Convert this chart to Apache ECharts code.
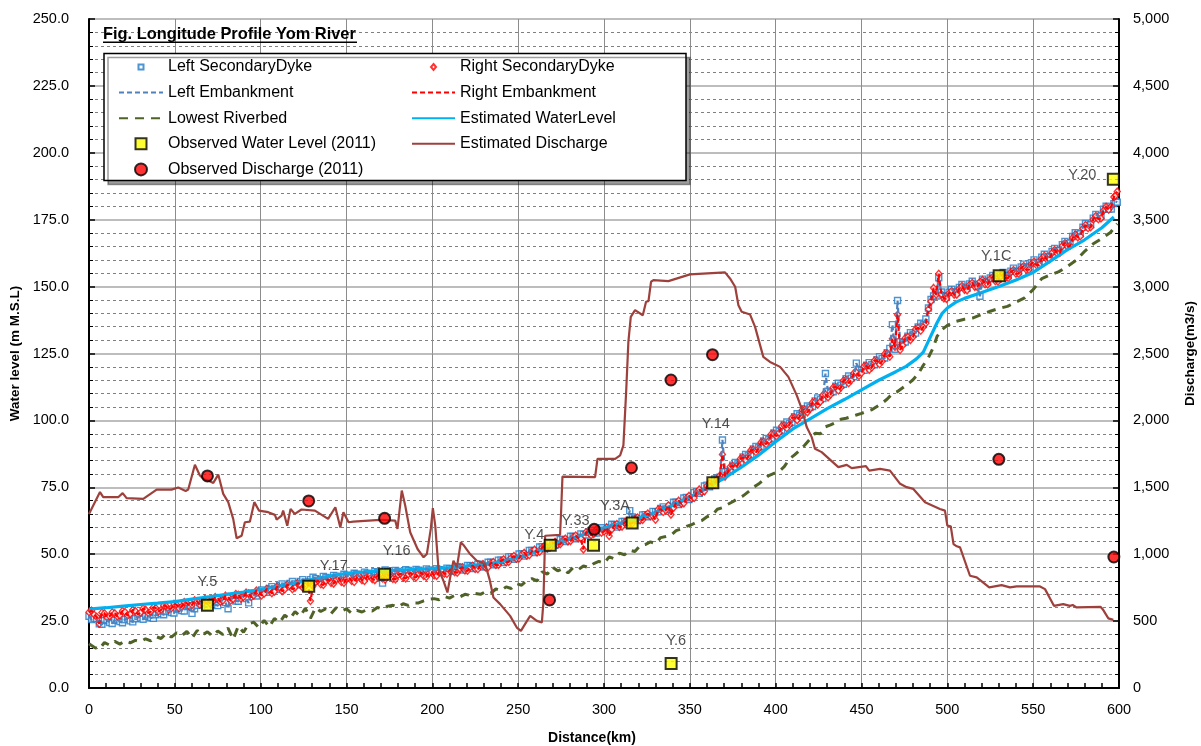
<!DOCTYPE html>
<html>
<head>
<meta charset="utf-8">
<script src="https://cdn.jsdelivr.net/npm/echarts/dist/echarts.min.js"></script>
<style>html,body{margin:0;padding:0;background:#fff;overflow:hidden}#c{width:1201px;height:746px}</style>
</head>
<body>
<div id="c"></div>
<script>
// ---------- DATA ----------
// Embankment / secondary dyke crest levels, main survey points (km, m M.S.L)
const dykeKm = [0,3,6,9,12,15,18,21,24,27,30,33,36,39,42,45,48,51,54,57,60,63,66,69,72,75,78,81,84,87,90,93,96,99,102,105,108,111,114,117,120,123,126,129,132,135,138,141,144,147,150,153,156,159,162,165,168,171,174,177,180,183,186,189,192,195,198,201,204,207,210,213,216,219,222,225,228,231,234,237,240,243,246,249,252,255,258,261,264,267,270,273,276,279,282,285,288,291,294,297,300,303,306,309,312,315,318,321,324,327,330,333,336,339,342,345,348,351,354,357,360,363,366,369,372,375,378,381,384,387,390,393,396,399,402,405,408,411,414,417,420,423,426,429,432,435,438,441,444,447,450,453,456,459,462,465,468,471,474,477,480,483,486,489,492,495,498,501,504,507,510,513,516,519,522,525,528,531,534,537,540,543,546,549,552,555,558,561,564,567,570,573,576,579,582,585,588,591,594,597,599];
const rightDyke = [28.3,27.4,24.0,27.9,26.8,27.9,27.2,28.4,27.6,28.8,
28.1,29.2,28.6,29.8,29.2,30.5,29.8,31.1,30.4,31.7,
31.0,32.4,31.6,32.9,32.2,33.6,32.7,34.1,33.2,34.8,
34.0,35.3,34.6,36.0,35.2,36.7,36.0,37.5,36.8,38.2,
37.5,38.8,38.1,32.5,39.6,38.8,40.1,39.3,40.5,39.6,
40.8,40.0,41.2,40.3,41.6,40.7,41.9,40.9,42.1,40.8,
42.3,41.3,42.5,41.6,42.8,41.9,42.9,42.1,43.4,42.7,
44.0,43.3,44.6,43.9,45.2,44.5,45.8,45.1,46.6,46.0,
47.5,47.0,48.7,48.3,49.9,49.5,51.1,50.7,52.5,52.2,
54.0,53.6,55.2,54.8,56.4,56.0,51.8,58.1,57.6,59.0,
58.5,56.8,60.7,60.2,61.9,61.5,63.1,62.7,64.5,64.2,
62.9,66.8,66.4,64.8,69.1,68.9,70.9,70.8,73.1,73.2,
75.5,75.8,78.2,87.3,80.4,83.0,83.4,86.0,86.4,89.0,
89.4,92.0,92.4,95.0,95.4,98.1,98.4,101.1,101.4,104.1,
104.3,107.0,107.0,109.7,109.7,112.5,112.3,115.2,115.0,117.9,
117.7,120.3,119.8,122.4,122.1,125.0,130.5,139.5,128.0,131.2,
131.2,134.6,134.9,141.5,149.5,154.8,145.6,147.5,147.0,149.3,
148.8,150.7,149.9,151.8,150.9,152.9,152.0,153.9,153.2,155.4,
154.8,156.9,156.3,158.5,158.0,160.5,160.1,162.6,162.4,165.2,
164.9,168.2,168.4,171.7,171.8,175.1,175.2,178.4,178.7,183.5,185.5];
const leftDyke = [26.8,26.0,24.0,25.2,24.5,25.3,24.8,25.6,25.1,25.9,
26.2,26.8,26.3,27.4,27.8,28.6,28.2,29.5,28.9,30.4,
27.9,30.9,31.2,30.4,32.0,30.8,32.5,29.6,33.2,32.4,
34.1,31.8,34.8,35.6,36.0,37.2,37.0,38.2,38.0,39.1,
38.9,39.8,39.6,40.5,40.8,40.6,41.3,41.0,41.8,41.5,
42.1,41.8,42.5,42.2,42.9,42.4,43.2,39.2,43.5,42.8,
43.6,43.0,43.9,43.2,44.0,43.4,44.1,43.6,44.2,43.5,
44.6,44.0,45.1,44.5,45.7,45.0,46.2,45.6,47.0,46.4,
47.8,47.5,49.0,48.7,50.1,50.0,51.4,51.2,52.8,52.6,
54.2,54.0,55.5,55.3,56.6,56.4,57.4,58.4,58.0,59.3,
59.0,60.0,61.0,60.7,62.2,66.3,63.4,63.2,64.8,64.6,
65.9,67.1,66.9,68.0,69.4,69.3,71.2,71.1,73.4,73.6,
75.8,76.2,78.4,92.7,80.8,83.3,83.8,86.3,86.8,89.3,
89.8,92.3,92.8,95.3,95.8,98.4,98.8,101.4,101.9,104.4,
104.8,107.3,107.8,117.5,110.4,112.8,113.2,115.6,115.8,121.4,
118.6,120.6,120.8,122.7,123.1,125.3,135.8,144.8,129.0,131.5,
132.2,134.9,135.8,142.0,146.5,153.3,146.6,147.9,148.0,149.7,
149.8,151.0,150.9,146.4,152.0,153.2,153.0,154.3,154.2,155.8,
155.8,157.3,157.3,158.9,159.0,161.0,161.1,163.1,163.4,165.7,
166.0,168.7,169.4,172.2,172.8,175.6,176.2,178.9,179.0,181.0,181.5];
// Intermediate survey points
const dykeMidKm = [1.5,4.5,7.5,10.5,13.5,16.5,19.5,22.5,25.5,28.5,31.5,34.5,37.5,40.5,43.5,46.5,49.5,52.5,55.5,58.5,61.5,64.5,67.5,70.5,73.5,76.5,79.5,82.5,85.5,88.5,91.5,94.5,97.5,100.5,103.5,106.5,109.5,112.5,115.5,118.5,121.5,124.5,127.5,130.5,133.5,136.5,139.5,142.5,145.5,148.5,151.5,154.5,157.5,160.5,163.5,166.5,169.5,172.5,175.5,178.5,181.5,184.5,187.5,190.5,193.5,196.5,199.5,202.5,205.5,208.5,211.5,214.5,217.5,220.5,223.5,226.5,229.5,232.5,235.5,238.5,241.5,244.5,247.5,250.5,253.5,256.5,259.5,262.5,265.5,268.5,271.5,274.5,277.5,280.5,283.5,286.5,289.5,292.5,295.5,298.5,301.5,304.5,307.5,310.5,313.5,316.5,319.5,322.5,325.5,328.5,331.5,334.5,337.5,340.5,343.5,346.5,349.5,352.5,355.5,358.5,361.5,364.5,367.5,370.5,373.5,376.5,379.5,382.5,385.5,388.5,391.5,394.5,397.5,400.5,403.5,406.5,409.5,412.5,415.5,418.5,421.5,424.5,427.5,430.5,433.5,436.5,439.5,442.5,445.5,448.5,451.5,454.5,457.5,460.5,463.5,466.5,469.5,472.5,475.5,478.5,481.5,484.5,487.5,490.5,493.5,496.5,499.5,502.5,505.5,508.5,511.5,514.5,517.5,520.5,523.5,526.5,529.5,532.5,535.5,538.5,541.5,544.5,547.5,550.5,553.5,556.5,559.5,562.5,565.5,568.5,571.5,574.5,577.5,580.5,583.5,586.5,589.5,592.5,595.5,598];
const rightDykeMid = [28.9,26.6,28.2,26.3,28.3,26.7,28.8,27.1,29.2,27.5,
29.7,28.0,30.2,28.6,30.9,29.3,31.5,29.8,32.1,30.5,
32.8,31.1,33.3,31.6,34.0,32.2,34.5,32.6,35.1,33.4,
35.7,34.0,36.4,34.6,37.0,35.4,37.8,36.2,38.6,36.9,
39.2,37.5,39.5,38.1,40.2,38.5,40.6,39.0,41.0,39.3,
41.3,39.6,41.7,40.0,42.0,40.3,42.3,40.5,42.4,40.6,
42.7,40.9,43.0,41.3,43.2,41.5,43.4,41.9,43.9,42.6,
44.5,43.1,45.1,43.8,45.7,44.4,46.3,45.1,47.1,46.0,
48.1,47.1,49.3,48.4,50.5,49.6,51.7,50.9,53.2,52.4,
54.6,53.7,55.8,54.9,57.0,55.9,58.2,57.1,59.1,58.0,
60.0,59.2,61.3,60.3,62.5,61.5,63.7,62.8,65.2,64.3,
66.7,65.8,68.3,67.3,70.0,69.0,71.8,71.0,74.2,73.5,
76.6,76.0,79.4,79.0,82.7,82.2,85.7,85.2,88.8,88.1,
91.8,91.1,94.9,94.1,97.9,97.1,100.9,100.1,103.9,103.0,
106.8,105.9,109.5,108.6,112.3,111.2,114.9,113.9,117.6,116.6,
120.2,118.9,122.3,121.0,124.8,123.8,127.5,126.3,130.8,130.0,
134.1,133.5,136.3,144.5,147.0,147.2,145.4,148.4,147.0,150.2,
148.6,151.4,149.8,152.5,150.8,153.6,151.9,154.7,153.2,156.2,
154.8,157.7,156.3,159.4,158.1,161.5,160.2,163.7,162.6,166.3,
165.3,169.5,168.8,173.0,172.2,176.4,175.5,179.8,180.0,184.0];
const leftDykeMid = [25.6,25.9,23.8,25.6,24.1,25.8,24.4,26.1,24.7,26.8,
25.7,27.3,26.0,28.3,27.4,29.1,28.0,29.9,28.8,30.8,
29.6,31.8,30.3,32.4,31.1,33.0,31.9,33.8,32.5,34.5,
33.4,35.4,34.4,36.6,35.8,37.9,36.8,38.9,37.8,39.8,
38.6,40.5,39.3,41.4,40.0,41.7,40.4,42.1,40.9,42.5,
41.2,42.9,41.6,43.3,41.9,43.5,42.4,44.1,42.4,43.9,
42.6,44.2,42.8,44.3,43.0,44.5,43.1,44.6,43.1,44.8,
43.6,45.3,44.1,45.8,44.6,46.3,45.2,47.0,46.0,47.8,
46.9,49.0,48.1,50.1,49.3,51.4,50.6,52.7,52.0,54.1,
53.4,55.5,54.7,56.7,55.8,57.6,57.2,58.9,57.9,59.9,
58.8,61.2,60.1,62.2,61.9,63.9,62.6,64.7,64.0,66.0,
65.8,67.7,66.7,69.4,68.6,71.0,70.4,73.0,72.8,75.5,
75.2,78.1,78.8,80.8,81.3,84.3,84.3,87.3,87.3,90.3,
90.3,93.3,93.3,96.3,96.3,99.4,99.3,102.5,102.3,105.4,
105.2,108.4,108.2,110.9,110.7,113.9,113.5,116.6,116.3,118.9,
118.7,121.6,120.8,123.8,123.3,126.9,126.6,129.4,129.3,132.8,
132.6,136.3,137.9,145.2,146.5,148.0,146.3,149.0,147.8,150.8,
149.4,152.0,150.2,152.8,151.6,154.2,152.6,155.3,154.0,156.9,
155.5,158.4,157.0,160.0,158.9,162.1,161.0,164.3,163.5,166.9,
166.3,170.1,169.7,173.6,173.1,177.0,176.4,180.0,179.0,181.8];

// Lowest riverbed (km, m M.S.L)
const riverKm = [0,3,6,9,12,15,18,21,24,27,30,33,36,39,42,45,48,51,54,57,60,63,66,69,72,75,78,81,84,87,90,93,96,99,102,105,108,111,114,117,120,123,126,129,132,135,138,141,144,147,150,153,156,159,162,165,168,171,174,177,180,183,186,189,192,195,198,201,204,207,210,213,216,219,222,225,228,231,234,237,240,243,246,249,252,255,258,261,264,267,270,273,276,279,282,285,288,291,294,297,300,303,306,309,312,315,318,321,324,327,330,333,336,339,342,345,348,351,354,357,360,363,366,369,372,375,378,381,384,387,390,393,396,399,402,405,408,411,414,417,420,423,426,429,432,435,438,441,444,447,450,453,456,459,462,465,468,471,474,477,480,483,486,489,492,494,497,500,505,510,515,520,525,530,535,540,545,550,555,560,565,570,575,580,585,590,595,599];
const riverVal = [16.5,15.2,14.5,17.0,16.0,17.4,16.4,17.6,16.9,17.8,
17.3,18.4,17.6,19.2,18.5,20.4,19.0,20.6,19.5,21.2,
18.6,21.5,19.8,21.0,19.4,21.3,20.0,22.4,18.2,23.2,
20.8,24.0,24.6,22.5,25.3,22.8,26.0,24.5,27.2,25.8,
28.5,26.8,29.8,26.0,30.0,28.6,29.6,27.8,30.0,28.8,
29.6,27.9,29.0,28.4,29.3,28.8,30.1,29.5,30.6,30.9,
30.2,31.5,30.9,31.8,31.8,32.6,33.2,33.4,33.0,34.2,
33.6,34.6,34.0,35.0,34.6,35.3,35.0,36.0,35.4,37.0,
36.4,37.8,37.2,39.0,38.4,40.2,40.9,40.0,43.4,42.6,
45.2,43.8,44.6,43.0,45.0,44.2,45.6,45.0,46.5,47.3,
46.6,49.0,48.3,50.4,49.8,51.5,51.0,53.2,53.6,54.6,
54.0,56.2,56.6,57.1,58.8,59.4,60.4,61.0,62.0,62.6,
64.0,64.6,66.8,67.4,68.6,69.6,70.8,71.8,73.3,75.0,
76.2,77.8,79.4,80.2,81.0,82.7,85.6,87.1,88.8,90.8,
93.0,95.2,95.0,97.6,98.3,99.2,100.4,100.8,101.4,102.0,
102.6,103.4,104.0,105.2,106.4,108.0,110.0,110.8,112.2,113.6,
115.2,117.4,120.6,123.5,127.5,131.4,134.0,135.5,137.0,137.8,
138.3,139.6,140.8,141.8,142.6,144.2,145.8,148.9,153.0,154.4,
155.6,157.6,159.8,163.2,166.0,168.0,170.2,173.5];

// Estimated water level (km, m M.S.L)
const wlKm = [0,10,20,30,40,50,60,70,80,90,100,110,120,130,140,150,160,170,180,190,200,210,220,230,240,250,260,270,280,290,300,310,320,330,340,350,360,370,380,390,400,410,420,430,440,450,460,470,476,482,486,490,494,497,500,505,510,520,530,540,550,560,570,580,590,597];
const wlVal = [29.5,30.0,30.6,31.2,31.7,32.3,33.2,34.1,35.0,35.8,36.8,38.0,39.3,40.6,41.8,42.8,43.3,43.7,44.0,44.3,44.6,45.0,45.6,46.2,47.2,48.8,50.8,53.3,55.6,57.8,59.8,61.6,63.4,65.6,68.3,71.4,74.6,78.4,82.5,87.0,92.0,96.8,100.6,104.4,107.8,111.4,115.0,118.2,120.2,123.0,125.5,131.0,136.5,140.0,142.0,144.2,145.6,147.8,150.0,152.5,155.3,159.5,163.8,167.5,172.0,176.0];

// Estimated discharge (km, m3/s)
const dischargeKm = [0,6.4,8.3,17,19.6,21.9,31.6,39.4,48.1,52,56.3,57.8,61.7,64.6,67,69.5,72.4,75.3,78.2,81.1,84,86,88.9,90.8,93.7,96.3,99,104.4,108.3,109.3,112.2,113.1,115.5,117.4,119.9,123.8,131.6,139.3,143.5,146.4,148.2,151.2,154,169.6,178.4,179.7,182.2,184.2,187.1,191.4,194.9,196.8,199.1,200.3,201.7,203.6,206.5,208.8,210.4,212.3,214.3,216.6,218.1,222,225.9,230.8,233.3,235.6,239.5,245.3,249.2,251.6,254,257,260.9,263.8,264.7,265.7,266.7,274.4,275,275.8,294.8,296.2,306.5,309.4,311.3,312.9,314.2,315.6,318.1,322.6,324.5,325.9,327.4,328.8,337.5,350.1,370.5,373.4,376.4,378.3,380.2,385.1,388,392.8,396.7,402.6,407.4,412.3,415.2,418.1,421,422.9,426.8,436.5,441.4,444.3,452.6,454.5,460.8,466.6,472.5,476.3,480.2,487,495.7,498.6,500,502,503.6,505.5,507.4,513.2,517.1,524.4,531.6,536.5,540.4,554,556.9,562.1,567.5,571.4,573,575.3,589.2,590.5,593.8,596.7];
const dischargeQ = [1300,1464,1426,1426,1456,1419,1413,1483,1483,1498,1473,1483,1668,1588,1560,1550,1533,1595,1451,1389,1264,1119,1138,1239,1243,1389,1326,1314,1294,1259,1289,1326,1213,1339,1301,1334,1326,1264,1351,1200,1314,1239,1243,1256,1251,1189,1476,1364,1164,1039,977,1001,1189,1344,1214,889,801,714,827,951,902,1089,1069,1001,951,926,814,677,627,539,452,427,477,539,502,490,640,1138,1151,1144,1314,1580,1576,1713,1713,1738,1813,2213,2587,2774,2824,2786,2887,2891,3036,3048,3041,3091,3106,3061,2999,2861,2812,2791,2699,2475,2437,2400,2325,2187,2087,1950,1875,1788,1763,1651,1668,1643,1658,1625,1638,1625,1526,1501,1488,1388,1338,1326,1213,1209,1076,1059,1051,839,827,752,769,752,759,759,739,614,627,614,620,602,607,589,520,509];

// Observed water level 2011 (stations)
const obsWlName = ['Y.5','Y.17','Y.16','Y.4','Y.33','Y.3A','Y.14','Y.6','Y.1C','Y.20'];
const obsWlKm = [69,128,172.2,268.7,293.9,316.4,363.4,339.1,530.2,596.7];
const obsWlVal = [30.9,38.0,42.5,53.3,53.3,61.7,76.7,9.2,154.1,190.1];

// Observed discharge 2011
const obsQKm = [69,128,172.2,268.3,294.3,316,339,363.2,530,597];
const obsQVal = [1585,1398,1268,658,1186,1646,2302,2491,1709,979];

// ---------- STYLE ----------
const wlLabelOffsets = [[0,-23],[25,-20],[12,-23],[-16,-10],[-18,-24],[-17,-17],[3,-59],[5,-22],[-3,-20],[-31,-4]];
const FONT = 'Liberation Sans, Arial, sans-serif';

// ---------- CHART ----------
const pairs = (xs, ys) => xs.map((x, i) => [x, ys[i]]);
const merged = (a, b) => a.concat(b).sort((p, q) => p[0] - q[0]);
const leftData = merged(pairs(dykeKm, leftDyke), pairs(dykeMidKm, leftDykeMid));
const rightData = merged(pairs(dykeKm, rightDyke), pairs(dykeMidKm, rightDykeMid));

const chart = echarts.init(document.getElementById('c'), null, {renderer: 'canvas'});

const legendBase = {
  orient: 'vertical', itemWidth: 44, itemHeight: 12, itemGap: 9.6, padding: 0, selectedMode: false,
  textStyle: {fontSize: 16, color: '#000', fontFamily: FONT, lineHeight: 16}
};
const hideSym = {opacity: 0};

chart.setOption({
  animation: false,
  backgroundColor: '#fff',
  textStyle: {fontFamily: FONT},
  grid: {left: 89, right: 82, top: 19, bottom: 58, containLabel: false, outerBoundsMode: 'none'},
  legend: [
    Object.assign({}, legendBase, {left: 118, top: 59, data: [
      {name: 'Left SecondaryDyke', icon: 'path://M0,0M44,12M19.5,3.5h5v5h-5z'},
      {name: 'Left Embankment', itemStyle: hideSym},
      {name: 'Lowest Riverbed', itemStyle: hideSym},
      {name: 'Observed Water Level (2011)', icon: 'path://M0,0M44,12M16.5,0.5h11v11h-11z'},
      {name: 'Observed Discharge (2011)'}
    ]}),
    Object.assign({}, legendBase, {left: 411, top: 59, itemWidth: 43, data: [
      {name: 'Right SecondaryDyke', icon: 'path://M0,0M43,12M21.5,3L24,6L21.5,9L19,6Z'},
      {name: 'Right Embankment', itemStyle: hideSym},
      {name: 'Estimated WaterLevel', itemStyle: hideSym},
      {name: 'Estimated Discharge', itemStyle: hideSym}
    ]})
  ],
  graphic: [
    {type: 'rect', z: 3, shape: {x: 104, y: 53.5, width: 582, height: 127},
     style: {fill: '#fff', stroke: '#000', lineWidth: 1.5, shadowColor: 'rgba(0,0,0,0.38)', shadowOffsetX: 4, shadowOffsetY: 4, shadowBlur: 0}},
    {type: 'text', z: 5, x: 103, y: 34.3,
     style: {text: 'Fig. Longitude Profile Yom River', fill: '#000', font: 'bold 16.4px ' + FONT, verticalAlign: 'middle'}},
    {type: 'line', z: 5, shape: {x1: 103, y1: 42.2, x2: 357, y2: 42.2}, style: {stroke: '#000', lineWidth: 1.5}}
  ],
  xAxis: {
    type: 'value', min: 0, max: 600, interval: 50,
    axisLine: {lineStyle: {color: '#000', width: 2}},
    axisTick: {show: true, inside: true, length: 5, lineStyle: {color: '#000', width: 1.5}},
    minorTick: {show: true, splitNumber: 5, length: 5, lineStyle: {color: '#000', width: 1.5}},
    axisLabel: {color: '#000', fontSize: 14.5, margin: 14, fontFamily: FONT},
    splitLine: {show: true, lineStyle: {color: '#8c8c8c', width: 1}},
    name: 'Distance(km)', nameLocation: 'middle', nameGap: 43,
    nameTextStyle: {fontWeight: 'bold', fontSize: 14, color: '#000', fontFamily: FONT, padding: [0, 24, 0, 0]}
  },
  yAxis: [
    {
      type: 'value', min: 0, max: 250, interval: 25, position: 'left',
      axisLine: {show: true, lineStyle: {color: '#000', width: 2}},
      axisTick: {show: true, inside: true, length: 6, lineStyle: {color: '#000', width: 1.5}},
      minorTick: {show: true, splitNumber: 5, length: 4, lineStyle: {color: '#000', width: 1}},
      axisLabel: {color: '#000', fontSize: 14.5, margin: 20, fontFamily: FONT, formatter: v => v.toFixed(1)},
      splitLine: {show: true, lineStyle: {color: '#bdbdbd', width: 2}},
      minorSplitLine: {show: true, lineStyle: {color: '#808080', width: 1, type: [3, 3]}},
      name: 'Water level (m M.S.L)', nameLocation: 'middle', nameRotate: 90, nameGap: 62,
      nameTextStyle: {fontWeight: 'bold', fontSize: 13.5, color: '#000', fontFamily: FONT}
    },
    {
      type: 'value', min: 0, max: 5000, interval: 500, position: 'right',
      axisLine: {show: true, lineStyle: {color: '#000', width: 2}},
      axisTick: {show: true, inside: true, length: 6, lineStyle: {color: '#000', width: 1.5}},
      minorTick: {show: true, splitNumber: 5, length: 4, lineStyle: {color: '#000', width: 1}},
      axisLabel: {color: '#000', fontSize: 14.5, margin: 14, fontFamily: FONT,
        formatter: v => String(v).replace(/\B(?=(\d{3})+(?!\d))/g, ',')},
      splitLine: {show: false},
      name: 'Discharge(m3/s)', nameLocation: 'middle', nameRotate: 90, nameGap: 64,
      nameTextStyle: {fontWeight: 'bold', fontSize: 13.5, color: '#000', fontFamily: FONT}
    }
  ],
  series: [
    {name: 'Lowest Riverbed', type: 'line', yAxisIndex: 0, symbol: 'none', data: pairs(riverKm, riverVal),
     lineStyle: {color: '#4F6228', width: 3, type: [9, 7]}, itemStyle: {color: '#4F6228'}},
    {name: 'Estimated WaterLevel', type: 'line', yAxisIndex: 0, symbol: 'none', data: pairs(wlKm, wlVal),
     lineStyle: {color: '#00B0F0', width: 3.2}, itemStyle: {color: '#00B0F0'}},
    {name: 'Left Embankment', type: 'line', yAxisIndex: 0, symbol: 'none', data: leftData,
     lineStyle: {color: '#4F81BD', width: 2.2, type: [5, 3]}, itemStyle: {color: '#4F81BD'}},
    {name: 'Left SecondaryDyke', type: 'scatter', yAxisIndex: 0, symbol: 'rect', symbolSize: 6, data: leftData,
     itemStyle: {color: '#fff', borderColor: '#1F7AC7', borderWidth: 1.4}},
    {name: 'Right Embankment', type: 'line', yAxisIndex: 0, symbol: 'none', data: rightData,
     lineStyle: {color: '#FF0000', width: 2.2, type: [5, 3]}, itemStyle: {color: '#FF0000'}},
    {name: 'Right SecondaryDyke', type: 'scatter', yAxisIndex: 0, symbol: 'diamond', symbolSize: [6, 7], data: rightData,
     itemStyle: {color: '#fff', borderColor: '#FF0000', borderWidth: 1.4}},
    {name: 'Estimated Discharge', type: 'line', yAxisIndex: 1, symbol: 'none', data: pairs(dischargeKm, dischargeQ),
     lineStyle: {color: '#9E413C', width: 2.2}, itemStyle: {color: '#9E413C'}},
    {name: 'Observed Water Level (2011)', type: 'scatter', yAxisIndex: 0, symbol: 'rect', symbolSize: 11, z: 5,
     itemStyle: {color: '#FFFF00', borderColor: '#000', borderWidth: 2},
     label: {show: true, position: 'inside', color: '#222', fontSize: 14.5, fontFamily: FONT,
       formatter: p => obsWlName[p.dataIndex]},
     data: obsWlKm.map((k, i) => ({value: [k, obsWlVal[i]], label: {offset: wlLabelOffsets[i]}}))},
    {name: 'Observed Discharge (2011)', type: 'scatter', yAxisIndex: 1, symbol: 'circle', symbolSize: 11, z: 5,
     itemStyle: {color: '#FF0000', borderColor: '#000', borderWidth: 2},
     data: pairs(obsQKm, obsQVal)}
  ]
});
</script>
</body>
</html>
